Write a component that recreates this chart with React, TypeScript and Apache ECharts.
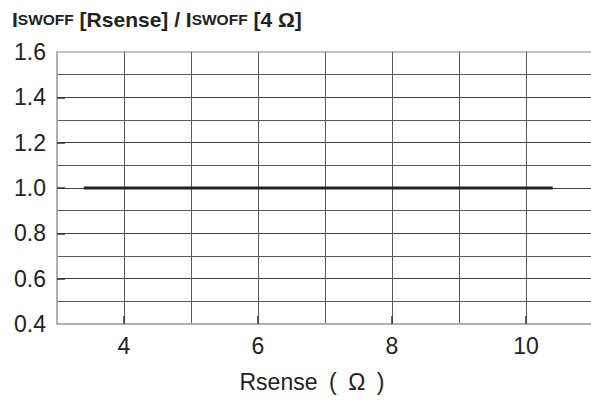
import React, { useEffect, useRef } from "react";
import * as echarts from "echarts";

const lineX = [3.4, 10.4];
const lineY = [1.0, 1.0];
const xTickLabels = [4, 6, 8, 10];
const yTickLabels = [0.4, 0.6, 0.8, 1.0, 1.2, 1.4, 1.6];
const yMin = 0.4;
const yMax = 1.6;
const xMin = 3;
const xMax = 11;

export default function App() {
  const ref = useRef<HTMLDivElement>(null);
  useEffect(() => {
    if (!ref.current) return;
    const chart = echarts.init(ref.current, undefined, { renderer: "svg" });
    const font = "'Liberation Sans', Arial, sans-serif";
    chart.setOption({
      animation: false,
      backgroundColor: "#ffffff",
      title: {
        left: 7,
        top: 4,
        text: "{a|I}{b|SWOFF}{a| [Rsense] / I}{b|SWOFF}{a| [4 Ω]}",
        textStyle: {
          rich: {
            a: { fontFamily: font, fontWeight: "bold", fontSize: 21, color: "#222" },
            b: { fontFamily: font, fontWeight: "bold", fontSize: 15.5, color: "#222" },
          },
        },
      },
      grid: {
        left: 57,
        top: 52,
        right: 7,
        bottom: 77,
        containLabel: false,
        show: true,
        borderColor: "#b0b0b0",
        borderWidth: 1.5,
      },
      xAxis: [
        {
          type: "value",
          min: xMin,
          max: xMax,
          interval: 1,
          name: "Rsense\u2002(\u2002Ω\u2002)",
          nameLocation: "middle",
          nameGap: 46,
          nameTextStyle: { fontFamily: font, fontSize: 23, color: "#222", padding: [0, 26, 0, 0] },
          axisLine: { show: true, lineStyle: { color: "#b0b0b0", width: 2 } },
          axisTick: { show: false },
          axisLabel: {
            fontFamily: font,
            fontSize: 23,
            color: "#222",
            margin: 10,
            formatter: (v: number) =>
              xTickLabels.includes(Math.round(v)) ? String(Math.round(v)) : "",
          },
          splitLine: {
            show: true,
            showMinLine: false,
            showMaxLine: false,
            lineStyle: { color: "#5a5a5a", width: 1 },
          },
        },
        {
          type: "value",
          min: xMin,
          max: xMax,
          position: "bottom",
          axisLine: { show: false },
          axisLabel: { show: false },
          splitLine: { show: false },
          axisTick: {
            show: true,
            inside: true,
            length: 8,
            customValues: xTickLabels,
            lineStyle: { color: "#333", width: 1.5 },
          },
        },
      ],
      yAxis: [
        {
          type: "value",
          min: yMin,
          max: yMax,
          interval: 0.2,
          axisLine: { show: true, lineStyle: { color: "#b0b0b0", width: 2 } },
          axisTick: { show: false },
          axisLabel: {
            fontFamily: font,
            fontSize: 23,
            color: "#222",
            margin: 11,
            formatter: (v: number) => v.toFixed(1),
          },
          splitLine: {
            show: true,
            showMinLine: false,
            showMaxLine: false,
            lineStyle: { color: "#444", width: 1 },
          },
          minorTick: { show: false, splitNumber: 2 },
          minorSplitLine: { show: true, lineStyle: { color: "#5a5a5a", width: 1 } },
        },
        {
          type: "value",
          min: yMin,
          max: yMax,
          position: "left",
          axisLine: { show: false },
          axisLabel: { show: false },
          splitLine: { show: false },
          axisTick: {
            show: true,
            inside: true,
            length: 8,
            customValues: yTickLabels.slice(1, -1),
            lineStyle: { color: "#333", width: 1.5 },
          },
        },
      ],
      series: [
        {
          type: "line",
          xAxisIndex: 0,
          yAxisIndex: 0,
          data: lineX.map((x, i) => [x, lineY[i]]),
          symbol: "none",
          lineStyle: { color: "#222", width: 3 },
        },
      ],
    });
    return () => chart.dispose();
  }, []);
  return (
    <div
      ref={ref}
      style={{ position: "fixed", left: 0, top: 0, width: 600, height: 401 }}
    />
  );
}
